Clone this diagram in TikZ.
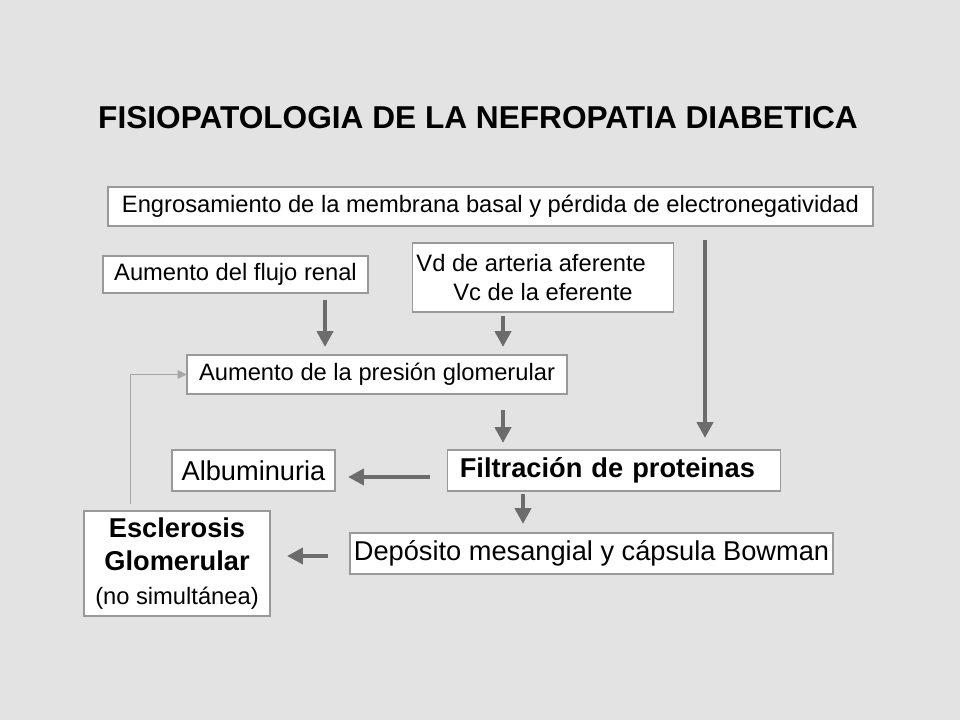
\documentclass[tikz,border=0pt]{standalone}
\usepackage{fontspec}
\setmainfont{Liberation Sans}
\usetikzlibrary{arrows.meta}
\begin{document}
\begin{tikzpicture}[x=0.02cm,y=-0.02cm,
  box/.style={draw=gray!80,fill=white,line width=0.6pt,inner sep=2pt,align=center,font=\fontsize{13.5}{17}\selectfont},
  bigtxt/.style={font=\fontsize{15.5}{20}\selectfont},
  big/.style={-{Triangle[length=9pt,width=9pt]},line width=2.6pt,draw=gray!85!black,color=gray!85!black},
  thin/.style={-{Triangle[length=5pt,width=5pt]},line width=0.5pt,draw=gray!70,color=gray!70}]
\fill[gray!22] (0,0) rectangle (960,720);
\useasboundingbox (0,0) rectangle (960,720);
\node[font=\fontsize{18}{22}\selectfont\bfseries] (title) at (478,118) {FISIOPATOLOGIA DE LA NEFROPATIA DIABETICA};
\node[box,minimum width=765*0.02cm,minimum height=39*0.02cm] (b1) at (490.5,206.5) {Engrosamiento de la membrana basal y pérdida de electronegatividad};
\node[box,minimum width=265*0.02cm,minimum height=37*0.02cm] (b2) at (235.5,274.5) {Aumento del flujo renal};
\node[box,minimum width=258*0.02cm,minimum height=69*0.02cm,font=\fontsize{13.5}{16}\selectfont] (b3) at (543,277.5) {Vd de arteria aferente\hspace*{1em}\\Vc de la eferente};
\node[box,minimum width=380*0.02cm,minimum height=39*0.02cm] (b4) at (377,374.5) {Aumento de la presión glomerular};
\node[box,bigtxt,font=\fontsize{15.5}{20}\selectfont\bfseries,anchor=west,text width=308*0.02cm,align=left,minimum height=41*0.02cm,inner xsep=7pt,inner ysep=2pt] (fil) at (447,470.5) {Filtración de proteinas};
\node[box,bigtxt,minimum width=163*0.02cm,minimum height=41*0.02cm] (alb) at (253.5,470.5) {Albuminuria};
\node[box,minimum width=186*0.02cm,minimum height=105*0.02cm,font=\fontsize{15.5}{19}\selectfont\bfseries] (esc) at (177,563.5) {Esclerosis\\Glomerular\\{\fontsize{13.5}{19}\selectfont\mdseries (no simultánea)}};
\node[box,bigtxt,minimum width=483*0.02cm,minimum height=41*0.02cm] (dep) at (591.5,553.5) {Depósito mesangial y cápsula Bowman};
\coordinate (a1s) at (325,300); \coordinate (a1e) at (325,347);
\coordinate (a2s) at (503,316); \coordinate (a2e) at (503,347);
\coordinate (a3s) at (705,240); \coordinate (a3e) at (705,438);
\coordinate (a4s) at (503,410); \coordinate (a4e) at (503,443);
\coordinate (a5s) at (430,477); \coordinate (a5e) at (348,477);
\coordinate (a6s) at (523,494); \coordinate (a6e) at (523,524);
\coordinate (a7s) at (328,556); \coordinate (a7e) at (287,556);
\draw[big] (a1s) -- (a1e);
\draw[big] (a2s) -- (a2e);
\draw[big] (a3s) -- (a3e);
\draw[big] (a4s) -- (a4e);
\draw[big] (a5s) -- (a5e);
\draw[big] (a6s) -- (a6e);
\draw[big] (a7s) -- (a7e);
\draw[thin] (esc.north -| 130,0) ++(0,-6) |- (b4.west);
\end{tikzpicture}
\end{document}
